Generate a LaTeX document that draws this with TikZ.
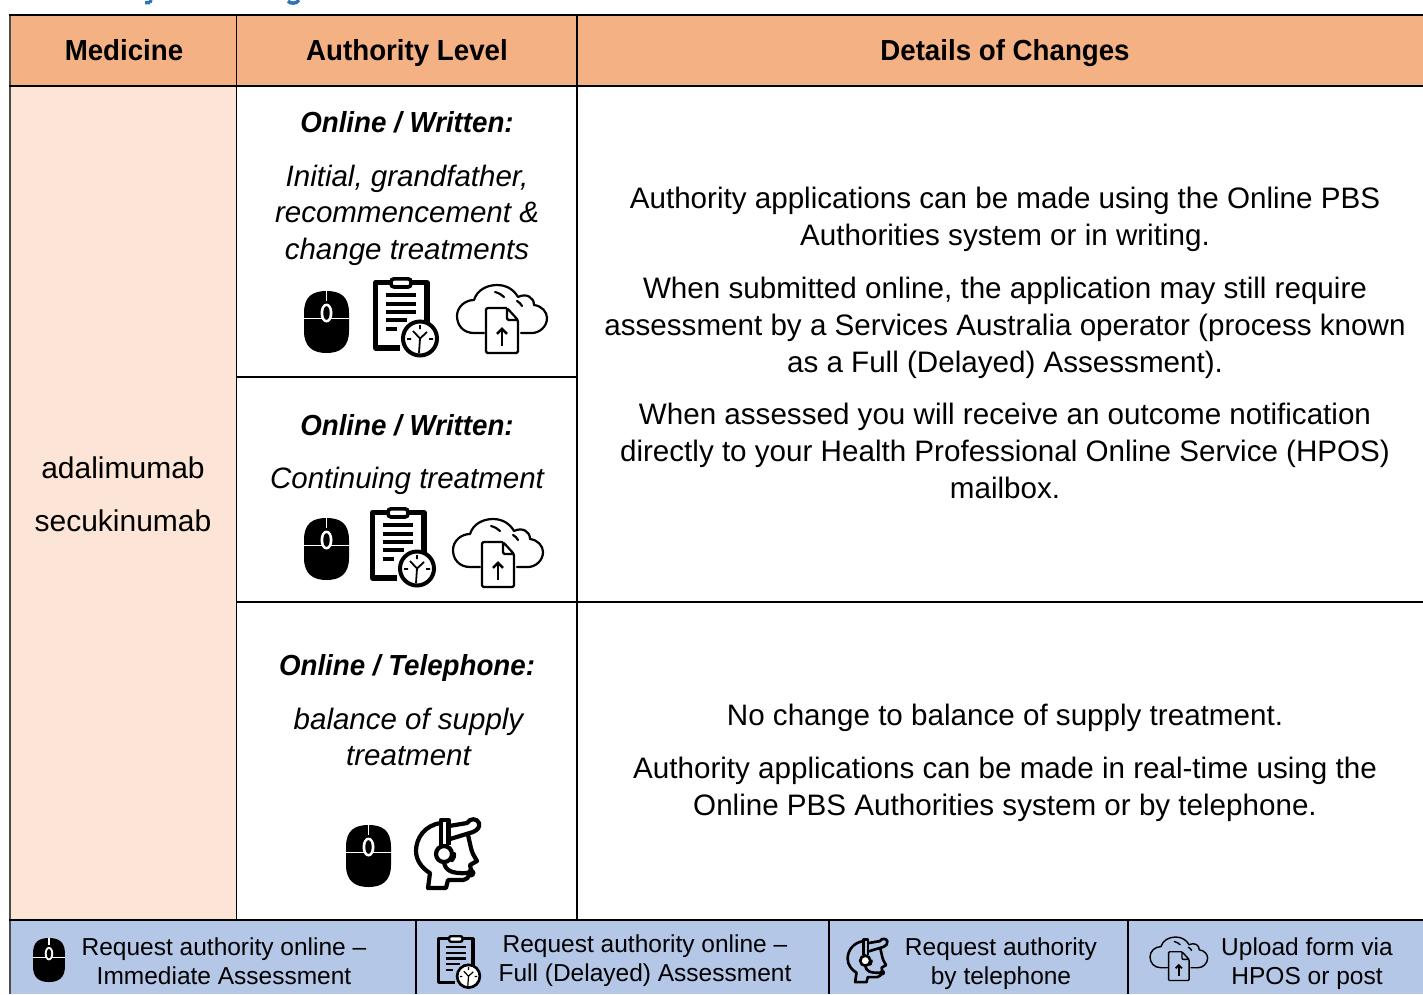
\documentclass[tikz,border=0pt]{standalone}
\usepackage{fontspec}
\setmainfont{Liberation Sans}
\newfontfamily\narrowfont[FakeStretch=0.955]{Liberation Sans}
\usetikzlibrary{arrows.meta}
\definecolor{headfill}{HTML}{F4B183}
\definecolor{medfill}{HTML}{FCE4D6}
\definecolor{legfill}{HTML}{B4C7E7}
\definecolor{titleblue}{HTML}{2E75B6}
\newcommand\iconmouse[3]{\begin{scope}[shift={(#1,#2)},scale=#3]
\fill[black] (0,22) .. controls (0,5) and (9,0) .. (22.5,0) .. controls (36,0) and (45,5) .. (45,22) -- (45,40) .. controls (45,56) and (36,62) .. (22.5,62) .. controls (9,62) and (0,56) .. (0,40) -- cycle;
\draw[white,line width=#3*1.8pt] (0,27.5) -- (45,27.5) (22.5,0) -- (22.5,10);
\fill[white] (22.5,22) ellipse [x radius=6,y radius=9.5];
\fill[black] (22.5,22) ellipse [x radius=3.2,y radius=6.8];
\end{scope}}
\newcommand\iconclip[3]{\begin{scope}[shift={(#1,#2)},scale=#3]
\draw[line width=#3*5.2pt,line join=round] (17,5.5) -- (2.6,5.5) -- (2.6,71) -- (27,71);
\draw[line width=#3*5.2pt,line join=round] (39,5.5) -- (54,5.5) -- (54,46);
\draw[line width=#3*3.6pt,rounded corners=#3*3pt,fill=white] (18,1.8) rectangle (38,10);
\draw[line width=#3*3.2pt] (13,18) -- (43,18) (13,27) -- (43,27) (13,35) -- (43,35) (13,43) -- (34,43) (13,52) -- (24,52);
\draw[line width=#3*4pt,fill=white] (47,61.5) circle [radius=17];
\draw[line width=#3*1.8pt] (47,61.5) -- (40,54) (47,61.5) -- (54,55) (47,61.5) -- (46,76) (47,48) -- (47,52) (34,62) -- (38,62) (60,62) -- (56,62);
\end{scope}}
\newcommand\iconcloud[3]{\begin{scope}[shift={(#1,#2)},scale=#3]
\draw[line width=#3*2.2pt,line cap=round,line join=round] (27,48) -- (17,48) .. controls (6,48) and (0,40) .. (0,31) .. controls (0,22) and (8,15) .. (17,15) .. controls (20,5) and (30,0) .. (40,0) .. controls (50,0) and (57,5) .. (61,12) .. controls (69,8) and (77,12) .. (77,20) .. controls (85,21) and (90,27) .. (90,33) .. controls (90,42) and (82,48) .. (75,48) -- (64,48);
\draw[line width=#3*2.2pt,line cap=round] (38,7) .. controls (42,8) and (45,10) .. (47,12) (60,16) .. controls (62,17) and (64,19) .. (65,21);
\draw[line width=#3*2.2pt,line join=round,rounded corners=#3*1.5pt] (50,23) -- (29,23) -- (29,68) -- (61,68) -- (61,35) -- (50,23) -- (50,35) -- (61,35);
\draw[line width=#3*2.6pt,-{Straight Barb[length=#3*5pt,width=#3*10pt]}] (45,61) -- (45,42);
\end{scope}}
\newcommand\iconagent[3]{\begin{scope}[shift={(#1,#2)},scale=#3]
\draw[line width=#3*4.2pt,line join=round,line cap=round] (26,5) .. controls (10,7) and (1,20) .. (1,33) .. controls (1,43) and (8,51) .. (15,55) -- (13,70) -- (31,70) -- (33,62) -- (48,62) .. controls (52,61) and (54,59) .. (54,57);
\draw[line width=#3*4.2pt,line join=round] (26,27) -- (26,2) -- (33.5,2) -- (33.5,27);
\draw[line width=#3*4.2pt,line join=round,line cap=round] (34,8) -- (52,5) .. controls (55,0) and (62,0) .. (64,5) .. controls (65,10) and (62,12) .. (58,14) -- (35,21);
\draw[line width=#3*4.2pt,line join=round,line cap=round] (53,17) .. controls (55,25) and (56,32) .. (58,36) -- (62,43) -- (55,47) -- (56,52) (37,42) .. controls (39,40) and (39,38) .. (39,36);
\draw[line width=#3*4.2pt,fill=white] (29,36) circle [radius=8];
\draw[line width=#3*4.2pt,line cap=round] (29,44) .. controls (30,52) and (36,56) .. (52,55);
\fill (56,55) circle [radius=4.5];
\end{scope}}
\tikzset{
 x=1pt,y=-1pt,
 tline/.style={line width=1.5pt,black},
 hline/.style={line width=2pt,black},
 headtxt/.style={font=\fontsize{29}{36}\narrowfont\bfseries\selectfont,inner sep=0pt,align=center},
 bodytxt/.style={font=\fontsize{29.6}{37}\selectfont,inner sep=0pt,align=center},
 medtxt/.style={font=\fontsize{30}{37}\selectfont,inner sep=0pt,align=center},
 auth/.style={font=\fontsize{29.5}{36.5}\itshape\selectfont,inner sep=0pt,align=center},
 authb/.style={font=\fontsize{29}{36}\narrowfont\bfseries\itshape\selectfont,inner sep=0pt,align=center},
 legtxt/.style={font=\fontsize{24.5}{29}\selectfont,inner sep=0pt,align=center},
}
\begin{document}
\begin{tikzpicture}
\useasboundingbox (0,0) rectangle (1423,994);
\clip (0,0) rectangle (1423,994);
\fill[white] (0,0) rectangle (1423,994);
% cut-off title descenders
\draw[titleblue,line width=3.5pt] (145,2.5) -- (150,2.5) (150,2.5) -- (151,0);
\draw[titleblue,line width=3.5pt] (288,1) .. controls (290,4) and (297,4) .. (299,0);
% fills
\fill[headfill] (10,15) rectangle (1423,86);
\fill[medfill] (10,86) rectangle (236.5,920);
\fill[legfill] (10,920) rectangle (1423,994);
% grid
\draw[tline] (236.5,15) -- (236.5,920) (577,15) -- (577,920);
\draw[tline] (236,377) -- (577,377) (236,602) -- (1423,602);
\draw[line width=1.2pt,black!70] (10,15) -- (10,994);
\draw[hline] (9,15) -- (1423,15) (9,86) -- (1423,86) (9,920) -- (1423,920);
\draw[line width=1.5pt] (416,920) -- (416,994) (829,920) -- (829,994) (1128,920) -- (1128,994);
% headers
\node[headtxt] (h1) at (124,50) {Medicine};
\node[headtxt] (h2) at (407,53) {Authority Level};
\node[headtxt] (h3) at (1005,53) {Details of Changes};
% medicines
\node[medtxt] (m1) at (123,468) {adalimumab};
\node[medtxt] (m2) at (123,521) {secukinumab};
% authority levels
\node[authb] (a1) at (407,122) {Online / Written:};
\node[auth] (a2) at (407,215) {Initial, grandfather,\\recommencement \&\\change treatments};
\node[authb] (a3) at (407,425) {Online / Written:};
\node[auth] (a4) at (407,481) {Continuing treatment};
\node[authb] (a5) at (407,668) {Online / Telephone:};
\node[auth] (a6) at (408.5,737) {balance of supply\\treatment};
% details
\node[bodytxt] (d1) at (1005,219) {Authority applications can be made using the Online PBS\\Authorities system or in writing.};
\node[bodytxt] (d2) at (1005,328) {When submitted online, the application may still require\\assessment by a Services Australia operator (process known\\as a Full (Delayed) Assessment).};
\node[bodytxt] (d3) at (1005,451) {When assessed you will receive an outcome notification\\directly to your Health Professional Online Service (HPOS)\\mailbox.};
\node[bodytxt] (d4) at (1005,718) {No change to balance of supply treatment.};
\node[bodytxt] (d5) at (1005,789.5) {Authority applications can be made in real-time using the\\Online PBS Authorities system or by telephone.};
% legend
\node[legtxt] (l1) at (224,961) {Request authority online –\\Immediate Assessment};
\node[legtxt] (l2) at (645,961) {Request authority online –\\Full (Delayed) Assessment};
\node[legtxt] (l3) at (1001,964) {Request authority\\by telephone};
\node[legtxt] (l4) at (1307,964) {Upload form via\\HPOS or post};
% icons
\iconmouse{304}{291}{1}
\iconclip{373}{277}{1}
\iconcloud{457}{285}{1}
\iconmouse{304}{518}{1}
\iconclip{370}{507}{1}
\iconcloud{453}{519}{1}
\iconmouse{346}{825}{1}
\iconagent{415}{818}{1}
\iconmouse{33}{938}{0.71}
\iconclip{437}{935}{0.67}
\iconagent{847}{938}{0.63}
\iconcloud{1150}{937}{0.64}
\end{tikzpicture}
\end{document}
